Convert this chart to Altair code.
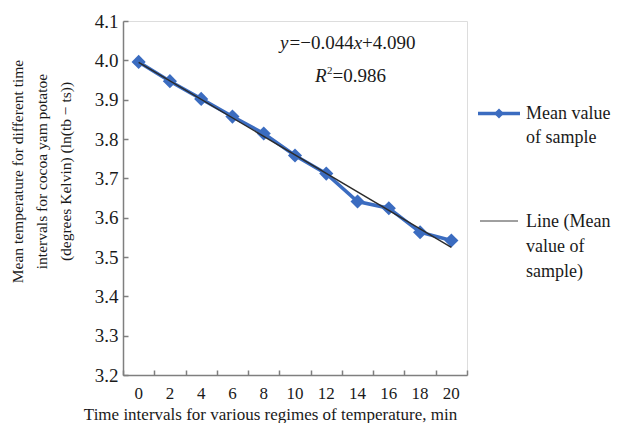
import altair as alt
import pandas as pd

# ---- data ----
times = [0, 2, 4, 6, 8, 10, 12, 14, 16, 18, 20]
means = [3.996, 3.947, 3.902, 3.857, 3.814, 3.758, 3.712, 3.641, 3.624, 3.563, 3.542]
y_ticks = [3.2, 3.3, 3.4, 3.5, 3.6, 3.7, 3.8, 3.9, 4.0, 4.1]
x_title = "Time intervals for various regimes of temperature, min"
y_title = ["Mean temperature for different time",
           "intervals for cocoa yam potatoe",
           "(degrees Kelvin) (ln(tb \u2212 ts))"]
legend1 = ["Mean value", "of sample"]
legend2 = ["Line (Mean", "value of", "sample)"]

df = pd.DataFrame({"time": times, "mean": means})
one = pd.DataFrame({"k": [0]})

W, H = 344, 354
FONT = "Liberation Serif"
BLUE = "#3b6cc0"
TREND = "#2b2b2b"
AXC = "#7f7f7f"
TXT = "#1a1a1a"

xscale = alt.Scale(type="band", paddingInner=0, paddingOuter=0)
yscale = alt.Scale(domain=[3.2, 4.1], nice=False, zero=False)

x_main = alt.X("time:O", scale=xscale, sort="ascending",
               axis=alt.Axis(orient="bottom", ticks=False, tickSize=0, labelAngle=0,
                             labelFont=FONT, labelFontSize=17, labelColor=TXT,
                             labelPadding=10, domainColor=AXC, domainWidth=1.5,
                             title=x_title, titleFont=FONT, titleFontSize=17,
                             titleFontWeight="normal", titleColor=TXT,
                             titleX=147, titleY=44, titleBaseline="alphabetic",
                             titleAlign="center", grid=False))
y_main = alt.Y("mean:Q", scale=yscale,
               axis=alt.Axis(orient="left", ticks=False, tickSize=0, values=y_ticks,
                             format=".1f", labelFont=FONT, labelFontSize=19,
                             labelColor=TXT, labelPadding=5,
                             domainColor=AXC, domainWidth=1.5,
                             title=y_title, titleFont=FONT, titleFontSize=15.5,
                             titleFontWeight="normal", titleColor=TXT,
                             titleLineHeight=24, titlePadding=21, titleY=150,
                             grid=False))

series_line = alt.Chart(df).mark_line(color=BLUE, strokeWidth=3.5).encode(x=x_main, y=y_main)
series_pts = alt.Chart(df).mark_point(shape="diamond", filled=True, opacity=1,
                                      color=BLUE, size=200).encode(
    x=alt.X("time:O", scale=xscale, axis=None),
    y=alt.Y("mean:Q", scale=yscale, axis=None))

trend = alt.Chart(df).transform_regression("time", "mean").mark_line(
    color=TREND, strokeWidth=1.4).encode(
    x=alt.X("time:O", scale=xscale,
            axis=alt.Axis(orient="top", offset=-H, domain=False, labels=False,
                          ticks=True, tickSize=5, tickBand="extent", tickColor=AXC,
                          tickWidth=1.5, title=None, grid=False)),
    y=alt.Y("mean:Q", scale=yscale,
            axis=alt.Axis(orient="right", offset=-W, domain=False, labels=False,
                          ticks=True, tickSize=5, values=y_ticks, tickColor=AXC,
                          tickWidth=1.5, title=None, grid=False)))


def txt(s, x, y, style="normal", size=19, align="left", baseline="alphabetic", lh=None):
    kw = dict(text=s, font=FONT, fontSize=size, fontStyle=style, align=align,
              baseline=baseline, color=TXT)
    if lh is not None:
        kw["lineHeight"] = lh
    return alt.Chart(one).mark_text(**kw).encode(x=alt.value(x), y=alt.value(y))


# equation annotation
eq = [
    txt("y", 157, 27.6, style="italic"),
    txt("=\u22120.044", 166.5, 27.6),
    txt("x", 230.7, 27.6, style="italic"),
    txt("+4.090", 239.1, 27.6),
    txt("R", 192, 61, style="italic"),
    txt("2", 204, 53, size=11),
    txt("=0.986", 209.5, 61),
]

# legend
leg = [
    alt.Chart(one).mark_rule(color=BLUE, strokeWidth=3.5).encode(
        x=alt.value(355), x2=alt.value(397), y=alt.value(92.6)),
    alt.Chart(one).mark_point(shape="diamond", filled=True, opacity=1, color=BLUE,
                              size=100).encode(x=alt.value(376), y=alt.value(92.6)),
    alt.Chart(one).mark_rule(color="#404040", strokeWidth=1).encode(
        x=alt.value(357), x2=alt.value(395), y=alt.value(200)),
    txt(legend1, 403, 92.6, size=18, baseline="middle", lh=24),
    txt(legend2, 403, 200.5, size=18, baseline="middle", lh=25),
]

chart = alt.layer(series_line, series_pts, trend, *eq, *leg).resolve_axis(
    x="independent", y="independent").properties(
    width=W, height=H,
    autosize=alt.AutoSizeParams(type="none"),
    padding={"left": 115, "top": 13, "right": 619 - 16 - 115 - W, "bottom": 431 - 16 - 13 - H},
).configure_view(stroke=None).configure(background="white")

chart.save("out.html", embed_options={"renderer": "svg", "actions": False})
